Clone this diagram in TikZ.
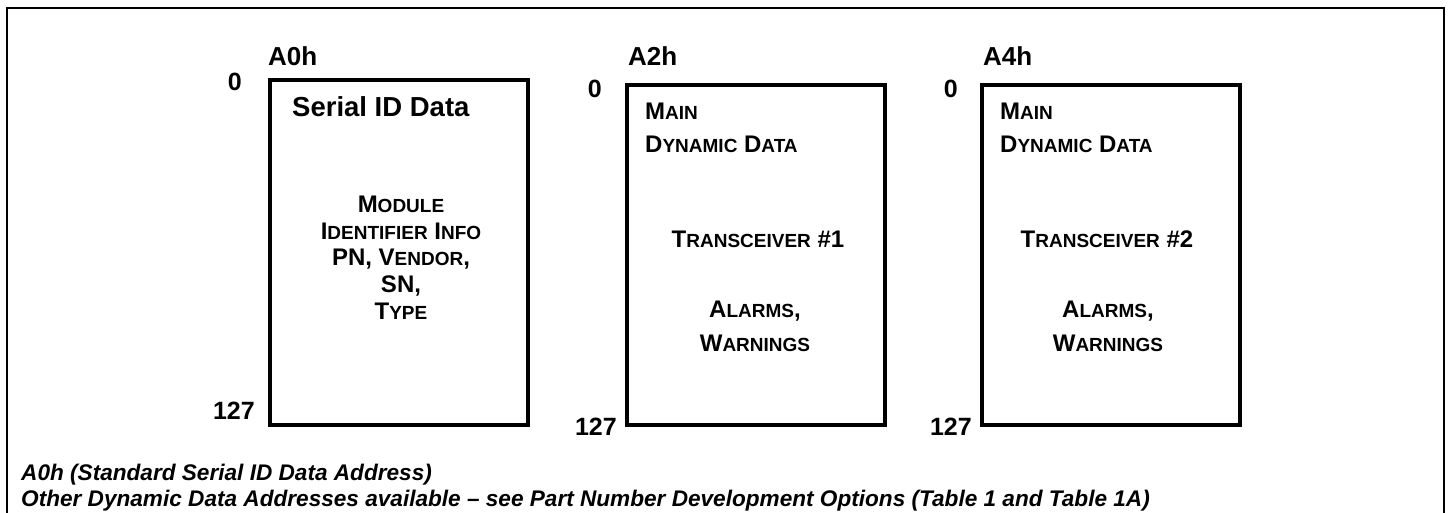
\documentclass[tikz,border=0pt]{standalone}
\usepackage{fontspec}
\setmainfont{Liberation Sans}
\usetikzlibrary{positioning}

% small capitals made by hand (Liberation Sans has none)
\newcommand\smc[1]{{\fontsize{19pt}{19pt}\selectfont #1}}

\begin{document}
\begin{tikzpicture}[x=1pt, y=-1pt,
    frame/.style={draw, line width=2pt},
    map/.style={draw, line width=4pt, minimum width=258pt, anchor=north west, inner sep=0pt},
    addr/.style={font=\fontsize{26pt}{26pt}\selectfont\bfseries, inner sep=0pt, anchor=base west},
    offs/.style={font=\fontsize{25pt}{25pt}\selectfont\bfseries, inner sep=0pt, anchor=base east},
    title/.style={font=\fontsize{27.5pt}{27.5pt}\selectfont\bfseries, inner sep=0pt, anchor=base west},
    body/.style={font=\fontsize{24pt}{26.75pt}\selectfont\bfseries, inner sep=0pt, align=center},
    note/.style={font=\fontsize{22.6pt}{22.6pt}\selectfont\bfseries\itshape, inner sep=0pt, anchor=base west}]

\useasboundingbox (0,0) rectangle (1449,512);

% Outer frame (open at the bottom)
\draw[frame] (7,520) -- (7,8) -- (1444,8) -- (1444,520);

% Memory maps
\node[map, minimum height=345pt] (a0) at (268,78) {};
\node[map, minimum height=340pt] (a2) at (625,83) {};
\node[map, minimum height=340pt] (a4) at (980,83) {};

% Device addresses
\node[addr] (a0-name) at ([xshift=0pt, yshift=13pt]a0.north west) {A0h};
\node[addr] (a2-name) at ([xshift=3pt, yshift=18pt]a2.north west) {A2h};
\node[addr] (a4-name) at ([xshift=3pt, yshift=18pt]a4.north west) {A4h};

% First and last byte
\node[offs] (a0-first) at ([xshift=-26pt, yshift=-12pt]a0.north west) {0};
\node[offs] (a0-last) at ([xshift=-13pt, yshift=8pt]a0.south west) {127};
\node[offs] (a2-first) at ([xshift=-23pt, yshift=-14pt]a2.north west) {0};
\node[offs] (a2-last) at ([xshift=-8pt, yshift=-8pt]a2.south west) {127};
\node[offs] (a4-first) at ([xshift=-22pt, yshift=-14pt]a4.north west) {0};
\node[offs] (a4-last) at ([xshift=-8pt, yshift=-8pt]a4.south west) {127};

% A0h contents
\node[title] (a0-title) at ([xshift=24pt, yshift=-38pt]a0.north west) {Serial ID Data};
\node[body] (a0-info) at ([xshift=2pt, yshift=-5pt]a0.center)
    {M\smc{ODULE}\\ I\smc{DENTIFIER} I\smc{NFO}\\ PN, V\smc{ENDOR},\\ SN,\\ T\smc{YPE}};

% A2h contents
\node[body, align=left, anchor=west, font=\fontsize{24pt}{33pt}\selectfont\bfseries] (a2-title)
    at ([xshift=20pt, yshift=-45pt]a2.north west) {M\smc{AIN}\\ D\smc{YNAMIC} D\smc{ATA}};
\node[body] (a2-xcvr) at ([xshift=2pt, yshift=-156pt]a2.north) {T\smc{RANSCEIVER} \#1};
\node[body, font=\fontsize{24pt}{34pt}\selectfont\bfseries] (a2-alarm)
    at ([xshift=-1pt, yshift=-243pt]a2.north) {A\smc{LARMS},\\ W\smc{ARNINGS}};

% A4h contents
\node[body, align=left, anchor=west, font=\fontsize{24pt}{33pt}\selectfont\bfseries] (a4-title)
    at ([xshift=20pt, yshift=-45pt]a4.north west) {M\smc{AIN}\\ D\smc{YNAMIC} D\smc{ATA}};
\node[body] (a4-xcvr) at ([xshift=-4pt, yshift=-156pt]a4.north) {T\smc{RANSCEIVER} \#2};
\node[body, font=\fontsize{24pt}{34pt}\selectfont\bfseries] (a4-alarm)
    at ([xshift=-3pt, yshift=-243pt]a4.north) {A\smc{LARMS},\\ W\smc{ARNINGS}};

% Notes
\node[note] (note-a0) at (21,480) {A0h (Standard Serial ID Data Address)};
\node[note] (note-other) at (21,506)
    {Other Dynamic Data Addresses available – see Part Number Development Options (Table 1 and Table 1A)};

\end{tikzpicture}
\end{document}
